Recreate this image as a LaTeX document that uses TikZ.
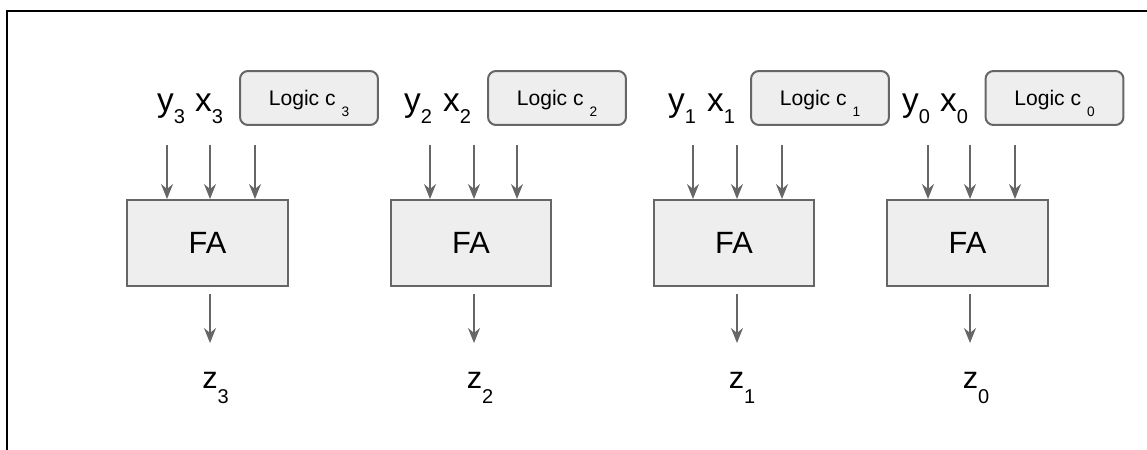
\documentclass[tikz,border=0pt]{standalone}
\usepackage{fontspec}
\setmainfont{Liberation Sans}
\usepackage{graphicx}
\usetikzlibrary{arrows.meta}
\definecolor{addGray}{HTML}{666666}
\definecolor{addFill}{HTML}{EEEEEE}
\newcommand{\lsub}[3]{\raisebox{-#1}{\scalebox{#2}{#3}}}
\tikzset{
  add frame/.style={draw=black, line width=0.05cm},
  add box/.style={draw=addGray, fill=addFill, line width=0.04cm, minimum width=3.22cm, minimum height=1.72cm, inner sep=0pt, font=\fontsize{17.5}{20}\selectfont},
  add logic/.style={draw=addGray, fill=addFill, line width=0.04cm, rounded corners=0.16cm, minimum width=2.76cm, minimum height=1.08cm, inner sep=0pt, text height=0.36cm, text depth=0.08cm, font=\fontsize{12}{14}\selectfont},
  add wire/.style={draw=addGray, line width=0.03cm, -{Stealth[length=0.3cm, width=0.24cm, inset=0.1cm]}},
  add label/.style={anchor=base, inner sep=0pt, font=\fontsize{19}{22}\selectfont},
  add out/.style={anchor=base, inner sep=0pt, font=\fontsize{17.5}{20}\selectfont},
}

\begin{document}
\begin{tikzpicture}[x=0.02cm, y=-0.02cm]
  \useasboundingbox (0,0) rectangle (1147,450);
  % frame (only top and left edges are in view)
  \draw[add frame] (7,450) -- (7,11) -- (1147,11);

  % one full adder per bit, from bit 3 down to bit 0
  \foreach \i/\fx/\lx/\ax/\bx/\cx/\yx/\xx/\zx in {3/207.5/309/167/210/255/171/209/215.5, 2/471/557/430/474/517/418/457/480, 1/734/820/693/737/782/682/721/742, 0/967.5/1054.5/928/970/1015/916/954/976} {
    \node[add box] (fa\i) at (\fx,243) {FA};
    \node[add logic] (logic\i) at (\lx,98) {Logic c\ \lsub{0.55em}{0.65}{\i}};
    \node[add label] (y\i) at (\yx,111) {y\lsub{0.36em}{0.6}{\i}};
    \node[add label] (x\i) at (\xx,111) {x\lsub{0.36em}{0.6}{\i}};
    \node[add out] (z\i) at (\zx,388) {z\lsub{0.5em}{0.65}{\i}};
    \coordinate (ina\i) at (\ax,145);
    \coordinate (inb\i) at (\bx,145);
    \coordinate (inc\i) at (\cx,145);
    \coordinate (out\i) at (\bx,343);
    \draw[add wire] (ina\i) -- (ina\i |- fa\i.north);
    \draw[add wire] (inb\i) -- (inb\i |- fa\i.north);
    \draw[add wire] (inc\i) -- (inc\i |- fa\i.north);
    \draw[add wire, shorten <=0.14cm] (fa\i.south -| out\i) -- (out\i);
  }
\end{tikzpicture}
\end{document}
